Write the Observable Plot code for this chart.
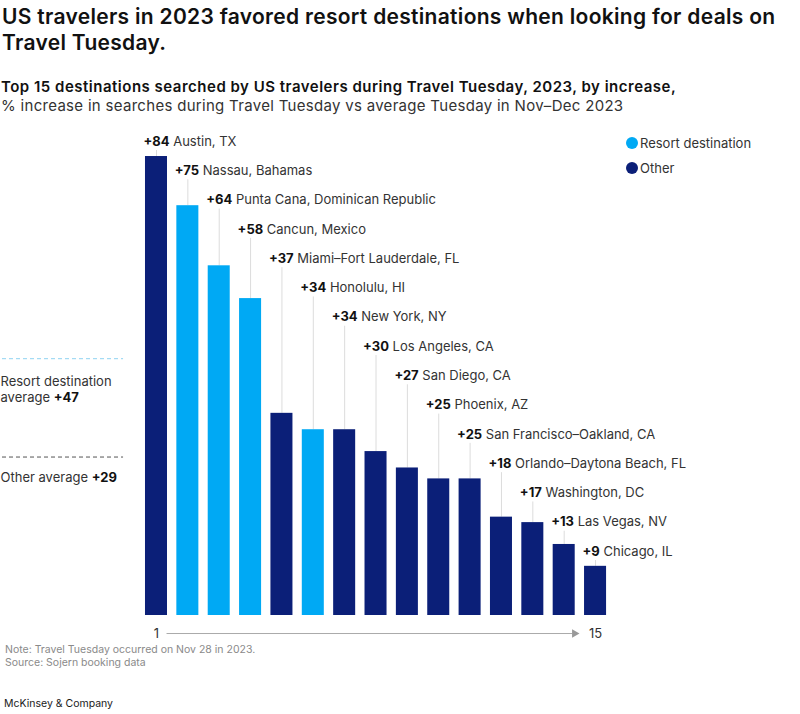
<!DOCTYPE html>
<html><head><meta charset="utf-8">
<script src="https://cdn.jsdelivr.net/npm/d3@7"></script>
<script src="https://cdn.jsdelivr.net/npm/@observablehq/plot@0.6"></script>
<style>
body{margin:0;background:#fff;font-family:Inter,"Noto Sans",sans-serif;color:#1a1a1a;}
#wrap{position:relative;width:800px;height:714px;overflow:hidden;background:#fff;}
#title{position:absolute;left:2px;top:4px;font-size:21px;line-height:26px;font-weight:600;color:#111;letter-spacing:0.3px;}
#sub{position:absolute;left:1px;top:77px;font-size:15px;line-height:19px;color:#333;letter-spacing:0.3px;}
#sub b{font-weight:600;color:#111;letter-spacing:0.5px;}
#chart{position:absolute;left:0;top:128px;}
#legend{position:absolute;left:626px;top:130px;font-size:13px;color:#333;}
#legend div{height:25px;line-height:18px;display:flex;align-items:center;}
#legend span.sw{display:inline-block;width:12px;height:12px;border-radius:50%;margin-right:2px;}
#notes{position:absolute;left:5px;top:643px;font-size:10.5px;line-height:13px;color:#8a8a8a;}
#brand{position:absolute;left:4px;top:697px;font-size:10.5px;line-height:14px;color:#1a1a1a;}
</style></head><body>
<div id="wrap">
<div id="title">US travelers in 2023 favored resort destinations when looking for deals on<br>Travel Tuesday.</div>
<div id="sub"><b>Top 15 destinations searched by US travelers during Travel Tuesday, 2023, by increase,</b><br>% increase in searches during Travel Tuesday vs average Tuesday in Nov–Dec 2023</div>
<div id="chart"></div>
<div id="legend"></div>
<div id="notes">Note: Travel Tuesday occurred on Nov 28 in 2023.<br>Source: Sojern booking data</div>
<div id="brand">McKinsey &amp; Company</div>
</div>
<script>
// ---- data ----
const ranks = [1,2,3,4,5,6,7,8,9,10,11,12,13,14,15];
const destinations = ["Austin, TX","Nassau, Bahamas","Punta Cana, Dominican Republic","Cancun, Mexico","Miami–Fort Lauderdale, FL","Honolulu, HI","New York, NY","Los Angeles, CA","San Diego, CA","Phoenix, AZ","San Francisco–Oakland, CA","Orlando–Daytona Beach, FL","Washington, DC","Las Vegas, NV","Chicago, IL"];
const increases = [84,75,64,58,37,34,34,30,27,25,25,18,17,13,9];
const types = ["Other","Resort destination","Resort destination","Resort destination","Other","Resort destination","Other","Other","Other","Other","Other","Other","Other","Other","Other"];
const groups = ["Resort destination","Other"];
const groupColors = ["#00a9f4","#0b1f78"];
const averageGroups = ["Resort destination","Other"];
const averageValues = [47,29];
const axisTicks = [1,15];

// ---- layout helpers (not data) ----
const rows = ranks.map((r,i)=>({rank:r,name:destinations[i],value:increases[i],type:types[i],i}));
const labelTop = 86.75, labelStep = 5.36;            // staggered label positions, in % units
const labelY = d => labelTop - d.i*labelStep;
const half = 0.351;                                    // half bar width, in rank units
const axisY = -3.3;
const avgRows = averageGroups.map((g,i)=>({group:g,avg:averageValues[i]}));

const plot = Plot.plot({
  width:800, height:517,
  marginLeft:0, marginRight:0, marginTop:0.7, marginBottom:30,
  x:{domain:[-3.974,21.535], axis:null},
  y:{domain:[0,89], axis:null},
  color:{domain:groups, range:groupColors},
  style:{fontFamily:'Inter,"Noto Sans",sans-serif', background:"transparent"},
  marks:[
    Plot.ruleX(rows,{x:"rank", y1:labelY, y2:"value", insetTop:9, stroke:"#dcdcdc", strokeWidth:1}),
    Plot.rectY(rows,{x1:d=>d.rank-half, x2:d=>d.rank+half, y1:0, y2:"value", fill:"type"}),
    Plot.text(rows,{x:d=>d.rank-half, y:labelY, dx:-2, text:d=>`+${d.value} ${d.name}`, textAnchor:"start", fontSize:13, fill:"#333"}),
    Plot.ruleY(avgRows.filter(d=>d.group==="Resort destination"),{y:"avg", x1:-3.91, x2:-0.05, stroke:"#8fd3f2", strokeDasharray:"4,3"}),
    Plot.ruleY(avgRows.filter(d=>d.group==="Other"),{y:"avg", x1:-3.91, x2:-0.05, stroke:"#555", strokeDasharray:"4,3"}),
    Plot.text(avgRows.filter(d=>d.group==="Resort destination"),{y:"avg", x:-3.974, dy:23, text:d=>d.group, textAnchor:"start", fontSize:13, fill:"#333"}),
    Plot.text(avgRows.filter(d=>d.group==="Resort destination"),{y:"avg", x:-3.974, dy:39, text:d=>`average +${d.avg}`, textAnchor:"start", fontSize:13, fill:"#333"}),
    Plot.text(avgRows.filter(d=>d.group==="Other"),{y:"avg", x:-3.974, dy:21, text:d=>`${d.group} average +${d.avg}`, textAnchor:"start", fontSize:13, fill:"#333"}),
    Plot.link([0],{x1:1.32, x2:14.25, y1:axisY, y2:axisY, stroke:"#aaa", strokeWidth:1}),
    Plot.dot([0],{x:14.33, y:axisY, symbol:"triangle", r:3.2, rotate:90, fill:"#999", stroke:null}),
    Plot.text(axisTicks,{x:d=>d, y:axisY, text:d=>String(d), fontSize:13, fill:"#333"})
  ]
});
// bold the "+NN" numbers
const ns = "http://www.w3.org/2000/svg";
plot.querySelectorAll("text").forEach(t=>{
  const s = t.textContent;
  if(!/\+\d/.test(s)) return;
  t.textContent = "";
  s.split(/(\+\d+)/).forEach(part=>{
    if(!part) return;
    const ts = document.createElementNS(ns,"tspan");
    ts.textContent = part;
    if(/^\+\d+$/.test(part)){ ts.setAttribute("font-weight","700"); ts.setAttribute("fill","#111"); }
    t.appendChild(ts);
  });
});
document.getElementById("chart").appendChild(plot);

// legend
const lg = document.getElementById("legend");
groups.forEach((g,i)=>{
  const row = document.createElement("div");
  const sw = document.createElement("span"); sw.className="sw"; sw.style.background=groupColors[i];
  row.appendChild(sw); row.appendChild(document.createTextNode(g));
  lg.appendChild(row);
});
</script>
</body></html>
